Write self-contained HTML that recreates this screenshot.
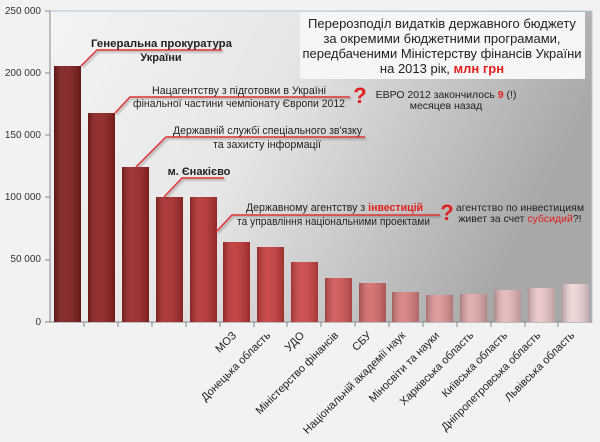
<!DOCTYPE html>
<html><head><meta charset="utf-8"><style>
body{margin:0;background:#f2f2f2}
svg{display:block;font-family:"Liberation Sans","DejaVu Sans",sans-serif}
</style></head><body>
<svg width="600" height="442" viewBox="0 0 600 442">
<defs>
<linearGradient id="bg" x1="0" y1="0" x2="1" y2="0.3">
<stop offset="0" stop-color="#f4f4f4"/><stop offset="0.45" stop-color="#e6e6e6"/><stop offset="1" stop-color="#a8a8a8"/>
</linearGradient>
<linearGradient id="sh" x1="0" x2="1"><stop offset="0" stop-color="#000" stop-opacity="0.25"/><stop offset="0.4" stop-color="#fff" stop-opacity="0.08"/><stop offset="1" stop-color="#000" stop-opacity="0.2"/></linearGradient>
<filter id="ds"><feDropShadow dx="1.5" dy="1.5" stdDeviation="1" flood-opacity="0.35"/></filter>
</defs>
<rect width="600" height="442" fill="#f2f2f2"/>
<rect x="50" y="11" width="542" height="311" fill="url(#bg)" stroke="#b8c4d4"/>
<g font-size="10" fill="#333" text-anchor="end">
<text x="41" y="14">250 000</text><text x="41" y="76">200 000</text><text x="41" y="138">150 000</text>
<text x="41" y="200">100 000</text><text x="41" y="262">50 000</text><text x="41" y="325">0</text>
</g>
<g stroke="#888" stroke-width="1">
<line x1="50" y1="322" x2="592" y2="322"/>
<line x1="50" y1="11" x2="50" y2="322"/>
<line x1="45" y1="11" x2="50" y2="11"/><line x1="45" y1="73" x2="50" y2="73"/><line x1="45" y1="135" x2="50" y2="135"/><line x1="45" y1="197" x2="50" y2="197"/><line x1="45" y1="260" x2="50" y2="260"/><line x1="45" y1="322" x2="50" y2="322"/>
<line x1="84" y1="322" x2="84" y2="327"/><line x1="118" y1="322" x2="118" y2="327"/><line x1="152" y1="322" x2="152" y2="327"/><line x1="186" y1="322" x2="186" y2="327"/><line x1="220" y1="322" x2="220" y2="327"/><line x1="254" y1="322" x2="254" y2="327"/><line x1="287" y1="322" x2="287" y2="327"/><line x1="321" y1="322" x2="321" y2="327"/><line x1="355" y1="322" x2="355" y2="327"/><line x1="389" y1="322" x2="389" y2="327"/><line x1="423" y1="322" x2="423" y2="327"/><line x1="457" y1="322" x2="457" y2="327"/><line x1="491" y1="322" x2="491" y2="327"/><line x1="525" y1="322" x2="525" y2="327"/><line x1="558" y1="322" x2="558" y2="327"/>
</g>
<g>
<rect x="54" y="66" width="27" height="256" fill="#7e1c1c"/>
<rect x="88" y="113" width="27" height="209" fill="#8c2020"/>
<rect x="122" y="167" width="27" height="155" fill="#9a2525"/>
<rect x="156" y="197" width="27" height="125" fill="#a82a2a"/>
<rect x="190" y="197" width="27" height="125" fill="#b43030"/>
<rect x="223" y="242" width="27" height="80" fill="#bf3535"/>
<rect x="257" y="247" width="27" height="75" fill="#c53c3c"/>
<rect x="291" y="262" width="27" height="60" fill="#cc4545"/>
<rect x="325" y="278" width="27" height="44" fill="#d05555"/>
<rect x="359" y="283" width="27" height="39" fill="#d46a6a"/>
<rect x="392" y="292" width="27" height="30" fill="#d87f80"/>
<rect x="426" y="295" width="27" height="27" fill="#dc9596"/>
<rect x="460" y="294" width="27" height="28" fill="#e0a8a9"/>
<rect x="494" y="290" width="27" height="32" fill="#e5b8b9"/>
<rect x="528" y="288" width="27" height="34" fill="#eac6c7"/>
<rect x="562" y="284" width="27" height="38" fill="#efd5d6"/>
</g>
<g fill="url(#sh)">
<rect x="54" y="66" width="27" height="256"/><rect x="88" y="113" width="27" height="209"/><rect x="122" y="167" width="27" height="155"/><rect x="156" y="197" width="27" height="125"/><rect x="190" y="197" width="27" height="125"/><rect x="223" y="242" width="27" height="80"/><rect x="257" y="247" width="27" height="75"/><rect x="291" y="262" width="27" height="60"/><rect x="325" y="278" width="27" height="44"/><rect x="359" y="283" width="27" height="39"/><rect x="392" y="292" width="27" height="30"/><rect x="426" y="295" width="27" height="27"/><rect x="460" y="294" width="27" height="28"/><rect x="494" y="290" width="27" height="32"/><rect x="528" y="288" width="27" height="34"/><rect x="562" y="284" width="27" height="38"/>
</g>
<rect x="300" y="12" width="285" height="67" fill="#f6f6f6"/>
<g font-size="13" fill="#222" text-anchor="middle">
<text x="442" y="28">Перерозподіл видатків державного бюджету</text>
<text x="442" y="43">за окремими бюджетними програмами,</text>
<text x="442" y="58">передбаченими Міністерству фінансів України</text>
<text x="442" y="73">на 2013 рік, <tspan fill="#e02020" font-weight="bold">млн грн</tspan></text>
</g>
<g stroke="#e03030" stroke-width="1.5" fill="none" filter="url(#ds)">
<polyline points="81,66 97,50 222,50"/>
<polyline points="115,113 130,97 350,97"/>
<polyline points="136,167 166,137 365,137"/>
<polyline points="164,197 182,178 224,178"/>
<polyline points="216,232 232,215 440,215"/>
</g>
<g font-size="11" fill="#222" lengthAdjust="spacingAndGlyphs">
<text x="91" y="47" font-weight="bold" textLength="141" lengthAdjust="spacingAndGlyphs">Генеральна прокуратура</text>
<text x="161" y="61" font-weight="bold" text-anchor="middle">України</text>
<text x="152" y="94" textLength="174" lengthAdjust="spacingAndGlyphs">Нацагентству з підготовки в Україні</text>
<text x="133" y="107" textLength="212" lengthAdjust="spacingAndGlyphs">фінальної частини чемпіонату Європи 2012</text>
<text x="173" y="134" textLength="189" lengthAdjust="spacingAndGlyphs">Державній службі спеціального зв'язку</text>
<text x="213" y="148" textLength="108" lengthAdjust="spacingAndGlyphs">та захисту інформації</text>
<text x="199" y="175" font-weight="bold" text-anchor="middle">м. Єнакієво</text>
<text x="246" y="211" textLength="177" lengthAdjust="spacingAndGlyphs">Державному агентству з <tspan fill="#e02020" font-weight="bold">інвестицій</tspan></text>
<text x="237" y="225" textLength="193" lengthAdjust="spacingAndGlyphs">та управління національними проектами</text>
<text x="446" y="98" font-size="10.5" text-anchor="middle">ЕВРО 2012 закончилось <tspan fill="#e02020" font-weight="bold">9</tspan> (!)</text>
<text x="446" y="109" font-size="10.5" text-anchor="middle">месяцев назад</text>
<text x="520" y="211" font-size="10.5" text-anchor="middle">агентство по инвестициям</text>
<text x="520" y="222" font-size="10.5" text-anchor="middle">живет за счет <tspan fill="#e02020">субсидий</tspan>?!</text>
</g>
<g font-size="22" font-weight="bold" fill="#e02020" text-anchor="middle">
<text x="360" y="103">?</text><text x="447" y="220">?</text>
</g>
<g font-size="11" fill="#222" text-anchor="end">
<text transform="translate(237,336) rotate(-45)">МОЗ</text>
<text transform="translate(271,336) rotate(-45)">Донецька область</text>
<text transform="translate(305,336) rotate(-45)">УДО</text>
<text transform="translate(339,336) rotate(-45)">Міністерство фінансів</text>
<text transform="translate(372,336) rotate(-45)">СБУ</text>
<text transform="translate(406,336) rotate(-45)">Національній академії наук</text>
<text transform="translate(440,336) rotate(-45)">Міносвіти та науки</text>
<text transform="translate(474,336) rotate(-45)">Харківська область</text>
<text transform="translate(508,336) rotate(-45)">Київська область</text>
<text transform="translate(541,336) rotate(-45)">Дніпропетровська область</text>
<text transform="translate(575,336) rotate(-45)">Львівська область</text>
</g>
</svg>
</body></html>
